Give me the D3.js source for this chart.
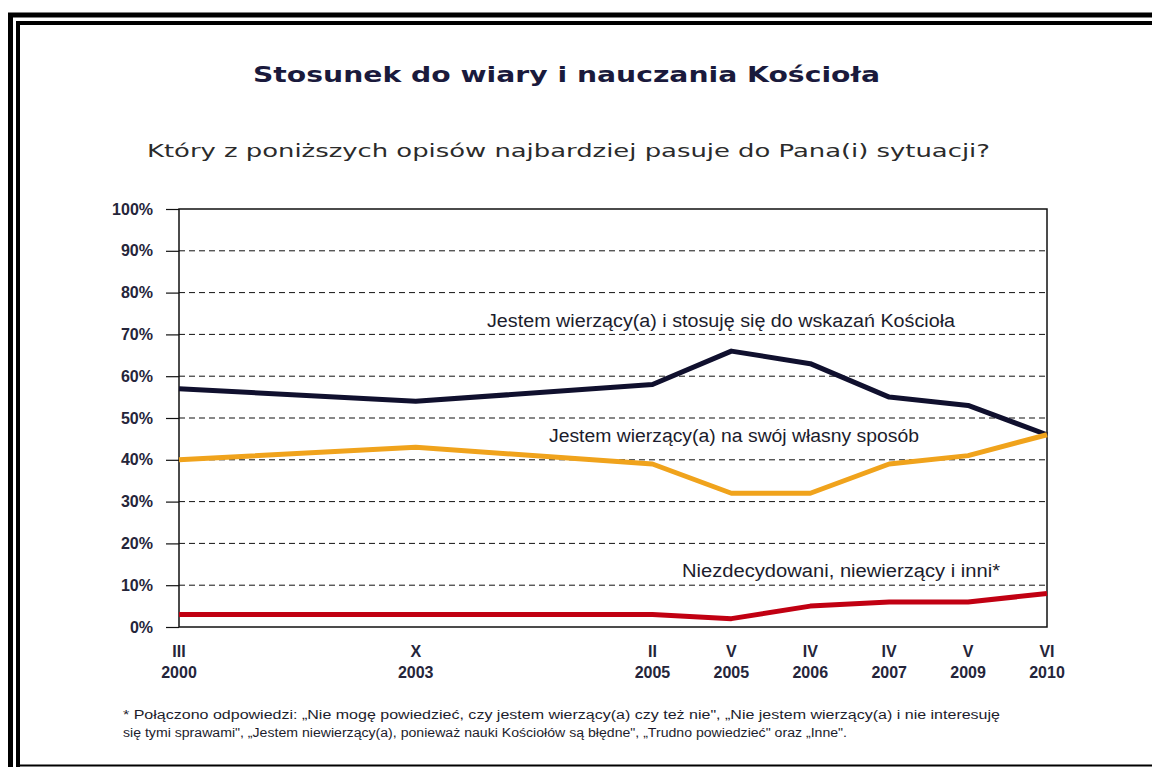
<!DOCTYPE html>
<html>
<head>
<meta charset="utf-8">
<script src="https://cdn.jsdelivr.net/npm/d3@7"></script>
<style>
  html, body { margin: 0; padding: 0; background: #fff; }
  svg { display: block; }
</style>
</head>
<body>
<svg id="chart" width="1152" height="767"></svg>
<script>
// survey waves: roman month + year, and where they sit on the time axis
var months = ["III", "X", "II", "V", "IV", "IV", "V", "VI"];
var years = ["2000", "2003", "2005", "2005", "2006", "2007", "2009", "2010"];
var slots = [0, 3, 6, 7, 8, 9, 10, 11];

var follows = [57, 54, 58, 66, 63, 55, 53, 46];   // stosuje sie do wskazan Kosciola
var ownWay = [40, 43, 39, 32, 32, 39, 41, 46];    // na swoj wlasny sposob
var others = [3, 3, 3, 2, 5, 6, 6, 8];            // niezdecydowani, niewierzacy i inni

var yTicks = [0, 10, 20, 30, 40, 50, 60, 70, 80, 90, 100];

var series = [
  {name: "Jestem wierzący(a) i stosuję się do wskazań Kościoła", values: follows, color: "#10102e",
   lx: 487, ly: 327, lw: 468},
  {name: "Jestem wierzący(a) na swój własny sposób", values: ownWay, color: "#f0a31c",
   lx: 549, ly: 442, lw: 370},
  {name: "Niezdecydowani, niewierzący i inni*", values: others, color: "#c10012",
   lx: 682, ly: 577, lw: 318}
];

var margin = {top: 209, left: 179, right: 105, bottom: 140};
var W = 1152, H = 767;
var width = W - margin.left - margin.right;
var height = H - margin.top - margin.bottom;

var svg = d3.select("#chart");

// double frame round the picture
svg.append("path")
  .attr("d", "M10.5,767 V15 H1152")
  .attr("fill", "none").attr("stroke", "#000").attr("stroke-width", 5);
svg.append("path")
  .attr("d", "M18,767 V23 H1152")
  .attr("fill", "none").attr("stroke", "#000").attr("stroke-width", 4);
svg.append("line")
  .attr("x1", 18).attr("x2", 1152).attr("y1", 765.5).attr("y2", 765.5)
  .attr("stroke", "#000").attr("stroke-width", 2);

svg.append("text")
  .attr("x", 253).attr("y", 82)
  .attr("textLength", 627).attr("lengthAdjust", "spacingAndGlyphs")
  .style("font-family", "'DejaVu Sans', Verdana, sans-serif")
  .style("font-weight", "bold").style("font-size", "22px")
  .attr("fill", "#1a1a3c")
  .text("Stosunek do wiary i nauczania Kościoła");

svg.append("text")
  .attr("x", 147).attr("y", 157)
  .attr("textLength", 843).attr("lengthAdjust", "spacingAndGlyphs")
  .style("font-family", "'DejaVu Sans', Verdana, sans-serif")
  .style("font-size", "17.5px")
  .attr("fill", "#2b2b2b")
  .text("Który z poniższych opisów najbardziej pasuje do Pana(i) sytuacji?");

var g = svg.append("g").attr("transform", `translate(${margin.left},${margin.top})`);

var x = d3.scaleLinear().domain([0, 11]).range([0, width]);
var y = d3.scaleLinear().domain([0, 100]).range([height, 0]);

// dashed grid
g.append("g")
  .selectAll("line")
  .data(yTicks.filter(d => d > 0 && d < 100))
  .join("line")
    .attr("x1", 0).attr("x2", width)
    .attr("y1", d => y(d)).attr("y2", d => y(d))
    .attr("stroke", "#111").attr("stroke-width", 1)
    .attr("stroke-dasharray", "6,4");

// y axis with ticks sticking out to the left
var yAxis = g.append("g")
  .call(d3.axisLeft(y).tickValues(yTicks).tickSize(13).tickPadding(13)
    .tickFormat(d => d + "%"));
yAxis.select(".domain").remove();
yAxis.selectAll(".tick line").attr("stroke", "#111").attr("stroke-width", 1.2);
yAxis.selectAll("text")
  .style("font-family", "'Liberation Sans', Arial, sans-serif")
  .style("font-weight", "bold").style("font-size", "16px")
  .attr("fill", "#25253a");

// plot frame
g.append("rect")
  .attr("width", width).attr("height", height)
  .attr("fill", "none").attr("stroke", "#111").attr("stroke-width", 1.5);

// x labels in two lines
var xl = g.append("g").attr("transform", `translate(0,${height})`)
  .selectAll("text")
  .data(slots)
  .join("text")
    .attr("x", d => x(d))
    .attr("text-anchor", "middle")
    .style("font-family", "'Liberation Sans', Arial, sans-serif")
    .style("font-weight", "bold").style("font-size", "16px")
    .attr("fill", "#25253a");
xl.append("tspan").attr("x", d => x(d)).attr("y", 30).text((d, i) => months[i]);
xl.append("tspan").attr("x", d => x(d)).attr("y", 51).text((d, i) => years[i]);

var line = d3.line()
  .x((d, i) => x(slots[i]))
  .y(d => y(d));

g.selectAll(".series")
  .data(series)
  .join("path")
    .attr("class", "series")
    .attr("d", d => line(d.values))
    .attr("fill", "none")
    .attr("stroke", d => d.color)
    .attr("stroke-width", 5)
    .attr("stroke-linejoin", "round");

svg.selectAll(".lbl")
  .data(series)
  .join("text")
    .attr("class", "lbl")
    .attr("x", d => d.lx).attr("y", d => d.ly)
    .attr("textLength", d => d.lw).attr("lengthAdjust", "spacingAndGlyphs")
    .style("font-family", "'Liberation Sans', Arial, sans-serif")
    .style("font-size", "18px")
    .attr("fill", "#1c1c2c")
    .text(d => d.name);

// footnote
var notes = [
  "* Połączono odpowiedzi: „Nie mogę powiedzieć, czy jestem wierzący(a) czy też nie\", „Nie jestem wierzący(a) i nie interesuję",
  "się tymi sprawami\", „Jestem niewierzący(a), ponieważ nauki Kościołów są błędne\", „Trudno powiedzieć\" oraz „Inne\"."
];
var noteLen = [877, 724];
svg.selectAll(".note")
  .data(notes)
  .join("text")
    .attr("class", "note")
    .attr("x", 123).attr("y", (d, i) => 719 + i * 18)
    .attr("textLength", (d, i) => noteLen[i]).attr("lengthAdjust", "spacingAndGlyphs")
    .style("font-family", "'Liberation Sans', Arial, sans-serif")
    .style("font-size", "12px")
    .attr("fill", "#1c1c2c")
    .text(d => d);
</script>
</body>
</html>
